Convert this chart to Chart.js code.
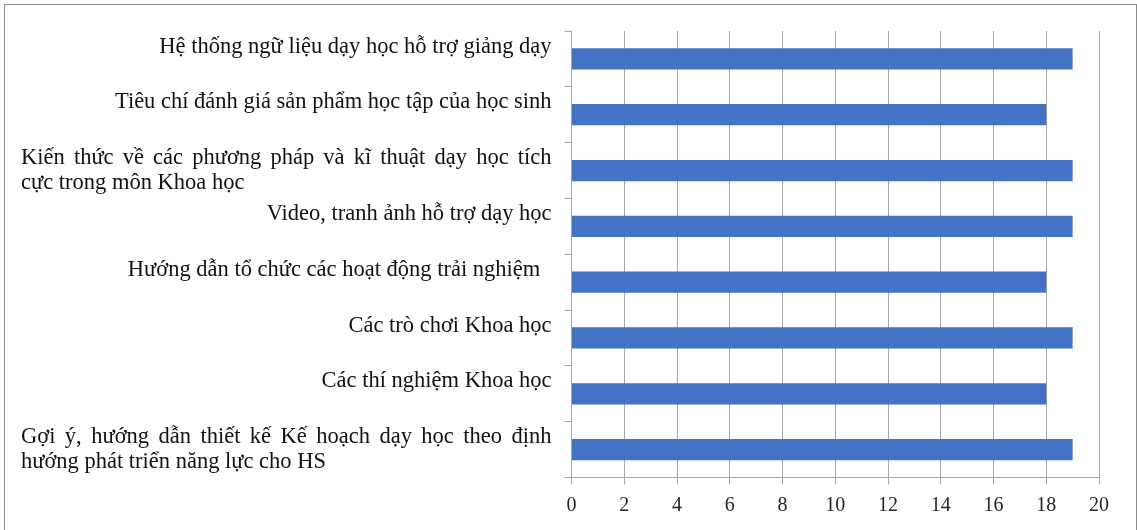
<!DOCTYPE html>
<html>
<head>
<meta charset="utf-8">
<script src="https://cdn.jsdelivr.net/npm/chart.js@4"></script>
<style>
  html, body { margin: 0; padding: 0; background: #fff; }
  #wrap { position: relative; width: 1137px; height: 530px; overflow: hidden; }
  #frame { position: absolute; left: 4px; top: 4px; width: 1131px; height: 540px; border: 1px solid #8a8a8a; box-sizing: content-box; }
  #c { position: absolute; left: 0; top: 0; }
</style>
</head>
<body>
<div id="wrap">
  <div id="frame"></div>
  <canvas id="c" width="1137" height="530"></canvas>
</div>
<script>
/* Biểu đồ thanh ngang — nhu cầu hỗ trợ tài liệu dạy học */
// nhãn một dòng trong bản gốc có dấu xuống dòng ở cuối -> dòng thứ hai rỗng
const LABELS = [
  ["Hệ thống ngữ liệu dạy học hỗ trợ giảng dạy", ""],
  ["Tiêu chí đánh giá sản phẩm học tập của học sinh", ""],
  ["Kiến thức về các phương pháp và kĩ thuật dạy học tích", "cực trong môn Khoa học"],
  ["Video, tranh ảnh hỗ trợ dạy học", ""],
  ["Hướng dẫn tổ chức các hoạt động trải nghiệm  ", ""],
  ["Các trò chơi Khoa học", ""],
  ["Các thí nghiệm Khoa học", ""],
  ["Gợi ý, hướng dẫn thiết kế Kế hoạch dạy học theo định", "hướng phát triển năng lực cho HS"]
];
const VALUES = [19, 18, 19, 19, 18, 19, 18, 19];
const X_MIN = 0, X_MAX = 20, X_STEP = 2;

const FONT = "'Liberation Serif', 'Times New Roman', serif";
const GRID = "#a6a6a6";
const BAR = "#4472c4";

/* nhãn trục tung: dòng cuối căn trái, dòng bị ngắt căn đều hai bên, nhãn một dòng căn phải */
const labelPlugin = {
  id: "catLabels",
  afterDraw(chart) {
    const ctx = chart.ctx, y = chart.scales.y;
    const xLeft = 21, xRight = y.right - 20, lh = 24.5;
    ctx.save();
    ctx.font = "22.5px " + FONT;
    ctx.fillStyle = "#111";
    ctx.textBaseline = "middle";
    chart.data.labels.forEach((lines, i) => {
      const yc = y.getPixelForValue(i);
      const wrapped = lines.filter(Boolean).length > 1;
      lines.forEach((txt, k) => {
        if (!txt) return;
        const ty = yc + (k - (lines.length - 1) / 2) * lh;
        if (!wrapped) {
          ctx.textAlign = "right";
          ctx.fillText(txt, xRight, ty);
        } else if (k < lines.length - 1) {
          const words = txt.split(" ").filter(Boolean);
          const w = words.map(s => ctx.measureText(s).width);
          const gap = (xRight - xLeft - w.reduce((a, b) => a + b, 0)) / (words.length - 1);
          ctx.textAlign = "left";
          let x = xLeft;
          words.forEach((s, j) => { ctx.fillText(s, x, ty); x += w[j] + gap; });
        } else {
          ctx.textAlign = "left";
          ctx.fillText(txt, xLeft, ty);
        }
      });
    });
    ctx.restore();
  }
};

new Chart(document.getElementById("c"), {
  type: "bar",
  data: {
    labels: LABELS,
    datasets: [{ data: VALUES, backgroundColor: BAR, barPercentage: 0.38, categoryPercentage: 1 }]
  },
  options: {
    indexAxis: "y",
    responsive: false,
    animation: false,
    layout: { padding: { top: 31, right: 38, bottom: 0, left: 0 } },
    plugins: { legend: { display: false }, tooltip: { enabled: false } },
    scales: {
      x: {
        min: X_MIN, max: X_MAX,
        ticks: { stepSize: X_STEP, font: { size: 20, family: FONT }, color: "#262626", padding: 9, maxRotation: 0 },
        grid: { color: GRID, tickLength: 7 },
        border: { color: GRID },
        afterFit: s => { s.height = 52.5; }
      },
      y: {
        ticks: { display: false },
        grid: { drawOnChartArea: false, color: GRID, tickLength: 7, offset: true },
        border: { color: GRID },
        afterFit: s => { s.width = 571.5; }
      }
    }
  },
  plugins: [labelPlugin]
});
</script>
</body>
</html>
